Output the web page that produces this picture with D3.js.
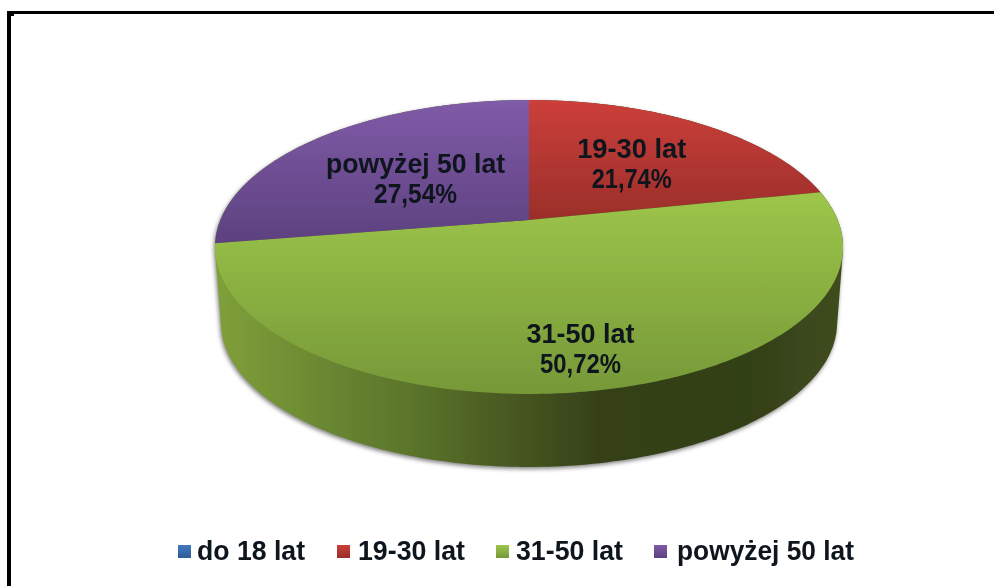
<!DOCTYPE html>
<html lang="pl">
<head>
<meta charset="utf-8">
<title>Wiek</title>
<script src="https://cdn.jsdelivr.net/npm/d3@7"></script>
<style>
html,body{margin:0;padding:0;background:#fff;}
svg{display:block;}
text{font-family:"Liberation Sans",Arial,sans-serif;font-weight:700;fill:#10131c;white-space:pre;}
</style>
</head>
<body>
<svg id="chart" width="994" height="586"></svg>
<script>
const categories = ["do 18 lat", "19-30 lat", "31-50 lat", "powyżej 50 lat"];
const shares = [0, 21.74, 50.72, 27.54];
const shareLabels = ["0,00%", "21,74%", "50,72%", "27,54%"];
const lightColors = ["#4179c0", "#cc3f3a", "#9dc64a", "#805ba8"];
const darkColors = ["#2d5a96", "#992e2a", "#769838", "#5d417f"];

const W = 994, H = 586;
const svg = d3.select("#chart");
const defs = svg.append("defs");

// Perspective projection of the unit disc onto the page
const cx = 529, cy = 220, persp = 0.1837, xAmp = 308.7, yAmp = 142;
const depth = 76.3, baseScale = 0.981;
const proj = (a, r = 1) => {
  const u = r * Math.sin(a), v = r * Math.cos(a), d = 1 + persp * v;
  return [cx + xAmp * u / d, cy - yAmp * v / d];
};
const projBase = (a) => {
  const u = Math.sin(a), v = Math.cos(a), d = 1 + persp * v;
  return [cx + baseScale * xAmp * u / d, cy + depth - baseScale * yAmp * v / d];
};
const ring = d3.range(0, 360).map(deg => deg * Math.PI / 180);

const pie = d3.pie().sort(null).value(d => d.value);
const rows = categories.map((c, i) => ({ name: c, value: shares[i], pct: shareLabels[i], index: i }));
const arcs = pie(rows);
const line = d3.line();

// Filters
const blur = defs.append("filter").attr("id", "soft").attr("x", "-5%").attr("y", "-5%").attr("width", "110%").attr("height", "110%");
blur.append("feGaussianBlur").attr("stdDeviation", 2);
const edge = defs.append("filter").attr("id", "edge").attr("x", "-2%").attr("y", "-2%").attr("width", "104%").attr("height", "104%");
edge.append("feGaussianBlur").attr("stdDeviation", 0.55);
const txt = defs.append("filter").attr("id", "txt").attr("x", "-5%").attr("y", "-10%").attr("width", "110%").attr("height", "120%");
txt.append("feGaussianBlur").attr("stdDeviation", 0.5);

// Gradients
const grad = (id, y1, y2, a, b) => {
  const g = defs.append("linearGradient").attr("id", id).attr("gradientUnits", "userSpaceOnUse")
    .attr("x1", 0).attr("x2", 0).attr("y1", y1).attr("y2", y2);
  g.append("stop").attr("offset", 0).attr("stop-color", a);
  g.append("stop").attr("offset", 1).attr("stop-color", b);
};
const side = defs.append("linearGradient").attr("id", "side").attr("gradientUnits", "userSpaceOnUse")
  .attr("x1", 218).attr("x2", 842).attr("y1", 0).attr("y2", 0);
[[0, "#7f9f3a"], [0.13, "#6f8d33"], [0.3, "#5c762b"], [0.45, "#4a5c22"], [0.62, "#343f18"], [0.85, "#333f18"], [1, "#404d1d"]]
  .forEach(([o, c]) => side.append("stop").attr("offset", o).attr("stop-color", c));
grad("top1", 100, 222, lightColors[1], darkColors[1]);
grad("top2", 192, 394, lightColors[2], darkColors[2]);
grad("top3", 100, 243, lightColors[3], darkColors[3]);
categories.forEach((c, i) => grad(`key${i}`, 545, 558, lightColors[i], darkColors[i]));

// Frame
const frame = svg.append("g").attr("fill", "#000");
frame.append("rect").attr("x", 7).attr("y", 11).attr("width", W - 7).attr("height", 3);
frame.append("rect").attr("x", 7).attr("y", 11).attr("width", 4).attr("height", H - 11);
frame.append("rect").attr("x", 11).attr("y", 14).attr("width", 3).attr("height", 2);

// Body of the pie
const hull = d3.polygonHull(ring.map(a => proj(a)).concat(ring.map(projBase)));
svg.append("path").attr("d", line(hull) + "Z")
  .attr("fill", "#555").attr("opacity", 0.75).attr("filter", "url(#soft)")
  .attr("transform", "translate(-1,2)");
svg.append("path").attr("d", line(hull) + "Z").attr("fill", "url(#side)").attr("filter", "url(#edge)");

// Top faces
const g = svg.append("g").attr("filter", "url(#edge)");
g.selectAll("path.slice").data(arcs.filter(d => d.value > 0)).join("path")
  .attr("class", "slice")
  .attr("fill", d => `url(#top${d.data.index})`)
  .attr("d", d => {
    const n = Math.ceil((d.endAngle - d.startAngle) * 90);
    const pts = d3.range(n + 1).map(i => proj(d.startAngle + (d.endAngle - d.startAngle) * i / n));
    return line([[cx, cy], ...pts]) + "Z";
  });

// Data labels: projected mid-angle with a per-slice placement and fitted widths
const labelPlace = [null, [0, 0, 109, 80], [16, 38, 108, 81], [12, 6, 179, 83]];
const labels = svg.append("g").attr("filter", "url(#txt)").attr("text-anchor", "middle").attr("font-size", 27);
arcs.filter(d => d.value > 0).forEach(d => {
  const [dx, dy, w1, w2] = labelPlace[d.data.index];
  const [x, y] = proj((d.startAngle + d.endAngle) / 2, 0.57);
  const t = labels.append("g").attr("transform", `translate(${x + dx},${y + dy})`);
  t.append("text").attr("y", -4).attr("textLength", w1).attr("lengthAdjust", "spacingAndGlyphs").text(d.data.name);
  t.append("text").attr("y", 26).attr("textLength", w2).attr("lengthAdjust", "spacingAndGlyphs").text(d.data.pct);
});

// Legend
const keyX = [178, 337, 496, 654];
const keyTextX = [197, 358, 516, 677];
const keyTextW = [108, 107, 107, 177];
const legend = svg.append("g").attr("font-size", 27);
const item = legend.selectAll("g").data(rows).join("g");
item.append("rect").attr("x", d => keyX[d.index]).attr("y", 545).attr("width", 13).attr("height", 13)
  .attr("fill", d => `url(#key${d.index})`).attr("filter", "url(#edge)");
item.append("text").attr("x", d => keyTextX[d.index]).attr("y", 560)
  .attr("textLength", d => keyTextW[d.index]).attr("lengthAdjust", "spacingAndGlyphs")
  .attr("filter", "url(#txt)").text(d => d.name);
</script>
</body>
</html>
